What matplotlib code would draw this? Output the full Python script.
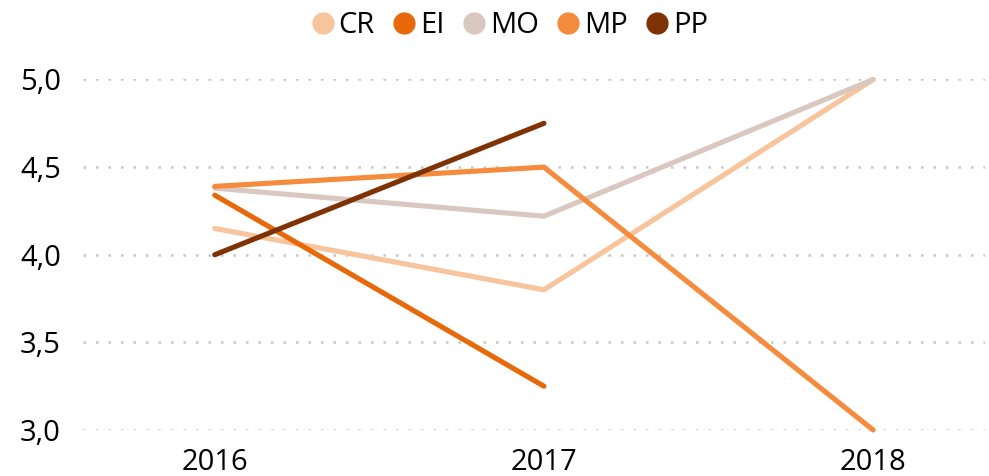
import matplotlib

matplotlib.use("Agg")
import matplotlib.pyplot as plt
from matplotlib.ticker import FuncFormatter

years = ["2016", "2017", "2018"]
cr = [4.15, 3.80, 5.00]
ei = [4.34, 3.25, None]
mo = [4.38, 4.22, 5.00]
mp = [4.39, 4.50, 3.00]
pp = [4.00, 4.75, None]

series = {"CR": cr, "EI": ei, "MO": mo, "MP": mp, "PP": pp}
colors = {
    "CR": "#F8C49C",
    "EI": "#E8690A",
    "MO": "#D9C7C0",
    "MP": "#F58B3D",
    "PP": "#7F3304",
}

plt.rcParams["font.family"] = ["Open Sans", "DejaVu Sans"]

fig = plt.figure(figsize=(9.89, 4.76), dpi=100)
ax = fig.add_axes([0.084, 0.0966, 0.912, 0.7364])

for name, values in series.items():
    xs = [i for i, v in enumerate(values) if v is not None]
    ys = [v for v in values if v is not None]
    ax.plot(xs, ys, color=colors[name], lw=3.7, solid_capstyle="round",
            solid_joinstyle="round", clip_on=False, label=name, zorder=3)

ax.set_xlim(-0.4, 2.34)
ax.set_ylim(3.0, 5.0)
ax.set_xticks(range(len(years)))
ax.set_xticklabels(years)
ax.set_yticks([3.0, 3.5, 4.0, 4.5, 5.0])
ax.yaxis.set_major_formatter(FuncFormatter(lambda v, _: f"{v:.1f}".replace(".", ",")))
ax.tick_params(axis="both", length=0, labelsize=21, colors="black")
ax.tick_params(axis="x", pad=13)
ax.tick_params(axis="y", pad=16)
for spine in ax.spines.values():
    spine.set_visible(False)
ax.yaxis.grid(True, color="#C6C6C6", lw=1.8, linestyle=(0, (1, 4)))
ax.set_axisbelow(True)

handles = [
    plt.Line2D([], [], marker="o", linestyle="none", markersize=15,
               markerfacecolor=colors[n], markeredgecolor=colors[n])
    for n in series
]
fig.legend(handles, list(series), loc="center", bbox_to_anchor=(0.515, 0.946),
           ncol=5, frameon=False, fontsize=21, handlelength=0.8,
           handletextpad=0.15, columnspacing=0.6)

fig.savefig("out.png", dpi=100)
